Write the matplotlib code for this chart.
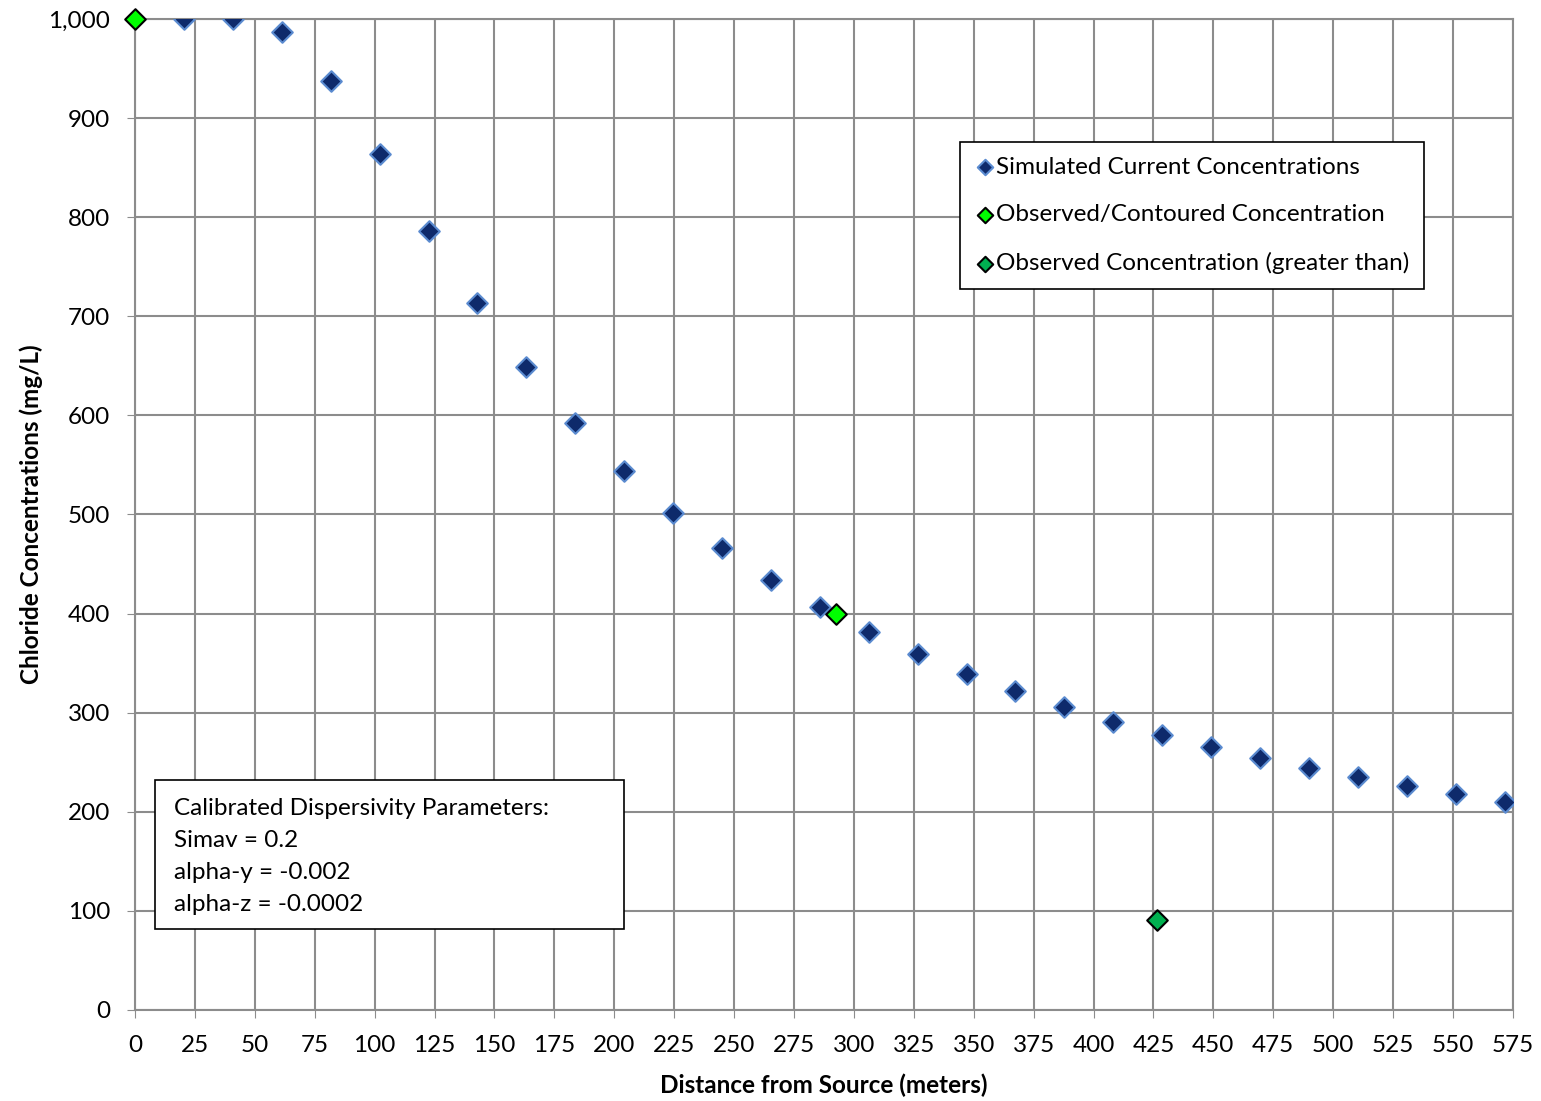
import matplotlib
matplotlib.use('Agg')
import matplotlib.pyplot as plt
from matplotlib.patches import Rectangle
from matplotlib.ticker import MultipleLocator, FuncFormatter

plt.rcParams['font.family'] = ['Lato', 'DejaVu Sans']

# Simulated current concentrations (distance in m, chloride mg/L)
sim_dist = [20.4, 40.9, 61.3, 81.8, 102.1, 122.5, 142.9, 163.3, 183.7, 204.1,
            224.5, 245.0, 265.4, 285.8, 306.2, 326.6, 347.0, 367.4, 387.8,
            408.2, 428.6, 449.0, 469.5, 489.9, 510.3, 530.7, 551.1, 571.5]
sim_conc = [1000, 1000, 987, 937, 864, 786, 713, 649, 592, 544,
            502, 466, 434, 407, 381, 359, 339, 322, 306,
            291, 277, 265, 254, 244, 235, 226, 218, 210]

# Observed / contoured concentrations
obs_dist = [0, 292.5]
obs_conc = [1000, 400]

# Observed concentration (greater than)
gt_dist = [426.5]
gt_conc = [91]

fs = 17.5

fig = plt.figure(figsize=(15.41, 11.01), dpi=100)
ax = fig.add_axes([0.0876, 0.0827, 0.8942, 0.9000])

ax.scatter(sim_dist, sim_conc, marker='D', s=110, facecolor='#0E2A6B',
           edgecolor='#5B8BD0', linewidth=1.5, zorder=3,
           label='Simulated Current Concentrations')
ax.scatter(obs_dist, obs_conc, marker='D', s=110, facecolor='#00FF00',
           edgecolor='black', linewidth=1.5, zorder=4, clip_on=False,
           label='Observed/Contoured Concentration')
ax.scatter(gt_dist, gt_conc, marker='D', s=110, facecolor='#00B050',
           edgecolor='black', linewidth=1.5, zorder=4,
           label='Observed Concentration (greater than)')

ax.set_xlim(0, 575)
ax.set_ylim(0, 1000)
ax.xaxis.set_major_locator(MultipleLocator(25))
ax.yaxis.set_major_locator(MultipleLocator(100))
ax.yaxis.set_major_formatter(FuncFormatter(lambda v, p: f'{int(v):,}'))
ax.grid(True, color='#8C8C8C', linewidth=1.5, zorder=0)
ax.set_axisbelow(True)
for sp in ax.spines.values():
    sp.set_color('#8C8C8C')
    sp.set_linewidth(1.5)
ax.tick_params(axis='both', labelsize=fs, length=6, color='#8C8C8C')
ax.tick_params(axis='y', pad=12)
ax.tick_params(axis='x', pad=12)

ax.set_xlabel('Distance from Source (meters)', fontsize=fs, fontweight='bold', labelpad=13)
ax.set_ylabel('Chloride Concentrations (mg/L)', fontsize=fs, fontweight='bold', labelpad=4)

leg = ax.legend(loc='upper right', bbox_to_anchor=(0.9354, 0.876), fontsize=fs,
                frameon=True, fancybox=False, edgecolor='black', framealpha=1,
                handletextpad=0.0, labelspacing=1.1, borderpad=0.6,
                scatterpoints=1, markerscale=0.75, handlelength=0.9,
                borderaxespad=0)
leg.get_frame().set_linewidth(1.2)

# parameter box
ax.add_patch(Rectangle((0.0145, 0.0817), 0.3404, 0.1503, transform=ax.transAxes,
                       facecolor='white', edgecolor='black', linewidth=1.2, zorder=5))
ax.text(0.0283, 0.2135,
        'Calibrated Dispersivity Parameters:\nSimav = 0.2\nalpha-y = -0.002\nalpha-z = -0.0002',
        transform=ax.transAxes, fontsize=fs, va='top', ha='left', linespacing=1.63,
        zorder=6)

plt.savefig('out.png', dpi=100)
